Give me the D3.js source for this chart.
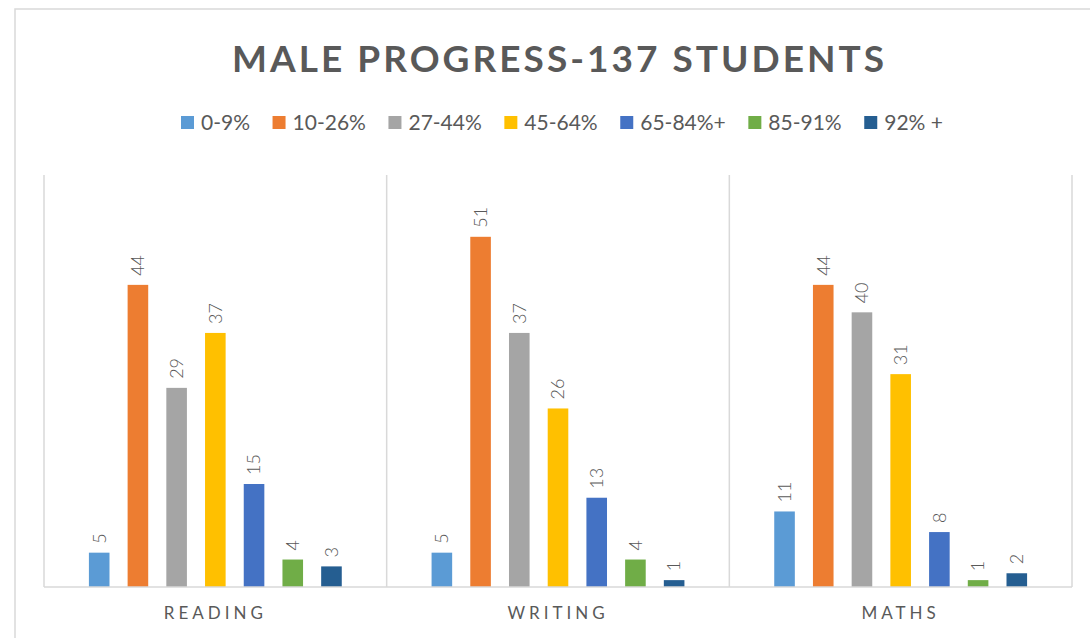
<!DOCTYPE html>
<html>
<head>
<meta charset="utf-8">
<script src="https://cdn.jsdelivr.net/npm/d3@7"></script>
<style>
  body{margin:0;background:#fff;}
  svg{display:block;font-family:Lato, "Open Sans", sans-serif;}
</style>
</head>
<body>
<div id="chart"></div>
<script>
const categories = ['READING','WRITING','MATHS'];
const series = ['0-9%','10-26%','27-44%','45-64%','65-84%+','85-91%','92% +'];
const colors = ['#5B9BD5','#ED7D31','#A5A5A5','#FFC000','#4472C4','#70AD47','#255E91'];
// one array per category, in series order
const reading = [5,44,29,37,15,4,3];
const writing = [5,51,37,26,13,4,1];
const maths = [11,44,40,31,8,1,2];
const values = [reading, writing, maths];

const W = 1090, H = 638;
const m = {t:175, r:18, b:51, l:44};
const iw = W - m.l - m.r, ih = H - m.t - m.b;

const svg = d3.select('#chart').append('svg').attr('width',W).attr('height',H);

// outer chart frame
svg.append('rect')
  .attr('x',15).attr('y',9).attr('width',W+20).attr('height',H+20)
  .attr('fill','none').attr('stroke','#d9d9d9').attr('stroke-width',1.5);

svg.append('text')
  .attr('x',558).attr('y',72)
  .attr('text-anchor','middle')
  .attr('font-size',37).attr('font-weight',700)
  .attr('fill','#595959')
  .attr('textLength',652).attr('lengthAdjust','spacing')
  .text('MALE PROGRESS-137 STUDENTS');

const x0 = d3.scaleBand().domain(categories).range([0,iw]).padding(0);
const x1 = d3.scaleBand().domain(series).range([0,x0.bandwidth()]).paddingInner(0.468).paddingOuter(1.16);
const y = d3.scaleLinear().domain([0,60]).range([ih,0]);
const color = d3.scaleOrdinal().domain(series).range(colors);

const g = svg.append('g').attr('transform',`translate(${m.l},${m.t})`);

// category separators
g.selectAll('.sep')
  .data(d3.range(categories.length+1))
  .enter().append('line')
  .attr('x1',i=>i*x0.step()).attr('x2',i=>i*x0.step())
  .attr('y1',0).attr('y2',ih)
  .attr('stroke','#d9d9d9').attr('stroke-width',1.5);

const grp = g.selectAll('.cat')
  .data(categories)
  .enter().append('g').attr('class','cat')
  .attr('transform',d=>`translate(${x0(d)},0)`);

grp.selectAll('rect')
  .data((d,i)=>series.map((s,j)=>({s:s,v:values[i][j]})))
  .enter().append('rect')
  .attr('x',d=>x1(d.s)).attr('width',x1.bandwidth())
  .attr('y',d=>y(d.v)).attr('height',d=>ih-y(d.v))
  .attr('fill',d=>color(d.s));

grp.selectAll('.lbl')
  .data((d,i)=>series.map((s,j)=>({s:s,v:values[i][j]})))
  .enter().append('text')
  .attr('transform',d=>`translate(${x1(d.s)+x1.bandwidth()/2},${y(d.v)-9}) rotate(-90)`)
  .attr('dy','0.35em')
  .attr('font-size',18).attr('font-weight',300).attr('fill','#595959')
  .text(d=>d.v);

// baseline
g.append('line')
  .attr('x1',0).attr('x2',iw).attr('y1',ih).attr('y2',ih)
  .attr('stroke','#d9d9d9').attr('stroke-width',1.5);

g.selectAll('.catlbl')
  .data(categories)
  .enter().append('text')
  .attr('x',d=>x0(d)+x0.bandwidth()/2).attr('y',ih+32)
  .attr('text-anchor','middle')
  .attr('font-size',17).attr('letter-spacing',4).attr('fill','#595959')
  .text(d=>d);

// legend
const leg = svg.append('g').attr('transform','translate(0,123)');
const items = leg.selectAll('g').data(series).enter().append('g');
items.append('rect').attr('y',-7).attr('width',13).attr('height',13).attr('fill',d=>color(d));
items.append('text').attr('x',20).attr('dy','0.35em')
  .attr('font-size',21).attr('fill','#595959').text(d=>d);
let widths = [];
items.each(function(){ widths.push(this.getBBox().width); });
const legL = 181, legR = 943;
const gap = (legR - legL - d3.sum(widths))/(widths.length-1);
let cx = legL;
items.attr('transform',(d,i)=>{ const t = `translate(${cx},0)`; cx += widths[i]+gap; return t; });
</script>
</body>
</html>
